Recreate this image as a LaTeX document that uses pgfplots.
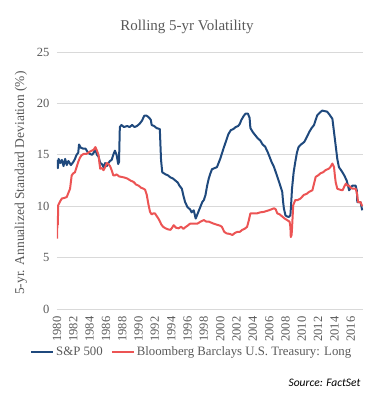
\documentclass[border=0pt]{standalone}
\usepackage{pgfplots}
\pgfplotsset{compat=1.18}
\usepackage{fontspec}
\setmainfont{Liberation Serif}
\newfontfamily\srcfont{Carlito}
\definecolor{spblue}{RGB}{31,73,125}
\definecolor{tred}{RGB}{236,84,84}
\definecolor{txtgray}{RGB}{89,89,89}
\definecolor{gridgray}{RGB}{217,217,217}
\begin{document}
\begin{tikzpicture}[x=1pt,y=1pt]
\useasboundingbox (0,0) rectangle (382,399);
\begin{axis}[
  scale only axis,
  width=306pt, height=257pt,
  at={(57pt,90pt)}, anchor=south west,
  xmin=1980, xmax=2017.5,
  ymin=0, ymax=25,
  ytick={0,5,...,25},
  xtick={1980,1982,...,2016},
  x tick label style={rotate=90, anchor=east, font=\fontsize{12.5}{13}\selectfont, text=txtgray},
  y tick label style={font=\fontsize{12.5}{13}\selectfont, text=txtgray},
  xticklabel shift=4pt,
  yticklabel shift=4pt,
  /pgf/number format/assume math mode=true,
  xticklabel={\pgfmathprintnumber[1000 sep={}]{\tick}},
  yticklabel={\pgfmathprintnumber{\tick}},
  major tick length=0pt,
  ymajorgrids, grid style={gridgray, line width=0.8pt},
  axis line style={draw=none},
  axis x line*=bottom,
  axis y line*=left,
  ylabel={5-yr. Annualized Standard Deviation (\%)},
  ylabel style={font=\fontsize{13.5}{14}\selectfont, text=txtgray, at={(axis description cs:-0.118,0.49)}, anchor=center},
  legend style={at={(axis description cs:-0.098,-0.168)}, anchor=west, draw=none, fill=none,
    font=\fontsize{12.8}{13}\selectfont, text=txtgray, legend columns=2,
    /tikz/every even column/.append style={column sep=6pt}},
  legend image code/.code={\draw[#1] (0pt,0pt) -- (22pt,0pt);},
  legend cell align=left,
]
\addplot[spblue, line width=2pt, line join=round] coordinates {
(1980.0,14.5) (1980.1,13.7) (1980.2,14.6) (1980.4,14.2) (1980.6,14.5) (1980.8,13.9) (1981.0,14.6) (1981.2,14.0) (1981.4,14.4) (1981.7,14.0) (1982.0,14.3) (1982.2,14.6) (1982.4,15.0) (1982.6,15.2) (1982.7,16.0) (1982.9,15.7) (1983.2,15.6) (1983.5,15.6) (1983.8,15.2) (1984.0,15.1) (1984.3,15.0) (1984.5,15.2) (1984.7,15.5) (1984.9,15.0) (1985.1,14.8) (1985.3,14.2) (1985.5,14.1) (1985.7,13.8) (1985.9,14.2) (1986.1,13.9) (1986.3,14.2) (1986.5,14.4) (1986.7,14.5) (1986.9,15.0) (1987.1,15.4) (1987.3,15.0) (1987.5,14.1) (1987.6,14.3) (1987.7,17.7) (1987.9,17.9) (1988.2,17.7) (1988.6,17.8) (1988.9,17.7) (1989.2,17.9) (1989.5,17.7) (1989.8,17.8) (1990.1,18.0) (1990.4,18.3) (1990.7,18.8) (1991.0,18.8) (1991.3,18.6) (1991.5,18.4) (1991.6,17.9) (1991.9,17.8) (1992.2,17.6) (1992.6,17.5) (1992.75,14.5) (1992.9,13.3) (1993.3,13.1) (1993.6,13.0) (1993.9,12.8) (1994.2,12.7) (1994.5,12.5) (1994.8,12.3) (1995.0,12.0) (1995.3,11.7) (1995.5,11.0) (1995.7,10.4) (1996.0,9.9) (1996.3,9.7) (1996.5,9.4) (1996.75,9.6) (1997.0,8.8) (1997.2,9.2) (1997.4,9.6) (1997.6,10.0) (1997.8,10.4) (1998.0,10.6) (1998.2,11.1) (1998.4,12.0) (1998.6,12.7) (1998.8,13.2) (1999.0,13.6) (1999.3,13.7) (1999.6,13.8) (1999.8,14.2) (2000.0,14.6) (2000.2,15.1) (2000.4,15.6) (2000.7,16.3) (2001.0,17.0) (2001.3,17.4) (2001.6,17.5) (2001.9,17.7) (2002.2,17.8) (2002.4,18.0) (2002.6,18.4) (2002.9,18.8) (2003.1,19.0) (2003.4,19.0) (2003.6,18.6) (2003.7,17.6) (2004.0,17.2) (2004.3,16.9) (2004.6,16.6) (2004.9,16.4) (2005.2,16.0) (2005.5,15.8) (2005.8,15.3) (2006.0,14.9) (2006.3,14.3) (2006.6,13.8) (2006.9,13.1) (2007.2,12.4) (2007.4,11.9) (2007.6,11.4) (2007.7,10.5) (2007.8,9.8) (2008.0,9.1) (2008.2,9.0) (2008.4,8.95) (2008.6,9.1) (2008.7,10.3) (2008.8,11.7) (2009.0,13.3) (2009.2,14.3) (2009.4,15.2) (2009.6,15.75) (2009.9,16.0) (2010.3,16.25) (2010.6,16.7) (2010.9,17.2) (2011.2,17.6) (2011.5,17.9) (2011.7,18.4) (2011.9,18.85) (2012.2,19.1) (2012.5,19.3) (2012.8,19.25) (2013.1,19.2) (2013.4,18.9) (2013.75,18.5) (2013.95,17.2) (2014.15,15.9) (2014.35,14.6) (2014.55,13.8) (2014.9,13.4) (2015.2,13.0) (2015.5,12.5) (2015.8,11.55) (2016.0,11.8) (2016.2,12.0) (2016.6,12.0) (2016.75,11.5) (2016.8,10.4) (2017.2,10.4) (2017.3,10.0) (2017.4,9.6)
};
\addlegendentry{S\&P 500}
\addplot[tred, line width=2pt, line join=round] coordinates {
(1980.0,6.85) (1980.05,8.5) (1980.1,8.2) (1980.15,10.1) (1980.4,10.5) (1980.6,10.75) (1980.9,10.8) (1981.2,10.9) (1981.4,11.3) (1981.6,11.7) (1981.8,13.0) (1982.0,13.2) (1982.2,13.3) (1982.4,13.8) (1982.6,14.3) (1982.8,14.7) (1983.0,14.95) (1983.3,15.1) (1983.65,15.1) (1984.0,15.3) (1984.25,15.4) (1984.5,15.5) (1984.7,15.75) (1984.9,15.4) (1985.1,14.95) (1985.2,14.2) (1985.3,13.65) (1985.5,13.7) (1985.7,13.5) (1985.9,13.8) (1986.1,14.2) (1986.3,14.1) (1986.5,13.9) (1986.7,13.5) (1986.9,13.0) (1987.1,13.0) (1987.3,13.1) (1987.6,12.9) (1987.9,12.85) (1988.2,12.8) (1988.6,12.7) (1989.0,12.5) (1989.4,12.35) (1989.7,12.1) (1990.0,12.0) (1990.3,11.8) (1990.6,11.7) (1990.8,11.6) (1991.0,11.1) (1991.2,10.2) (1991.4,9.45) (1991.6,9.2) (1991.8,9.3) (1992.0,9.3) (1992.25,9.0) (1992.5,8.7) (1992.8,8.2) (1993.0,8.0) (1993.3,7.85) (1993.6,7.75) (1993.9,7.7) (1994.1,7.9) (1994.3,8.15) (1994.6,7.9) (1994.9,7.85) (1995.2,8.0) (1995.5,7.8) (1995.8,8.0) (1996.0,8.1) (1996.3,8.3) (1996.7,8.3) (1997.2,8.3) (1997.6,8.5) (1998.0,8.65) (1998.3,8.5) (1998.6,8.5) (1998.9,8.4) (1999.2,8.3) (1999.6,8.2) (2000.0,8.1) (2000.2,8.0) (2000.5,7.5) (2000.8,7.35) (2001.2,7.3) (2001.5,7.2) (2001.8,7.4) (2002.1,7.5) (2002.4,7.5) (2002.7,7.7) (2003.0,7.8) (2003.3,8.0) (2003.5,8.6) (2003.7,9.3) (2004.0,9.3) (2004.5,9.3) (2004.9,9.4) (2005.35,9.45) (2005.95,9.6) (2006.3,9.7) (2006.6,9.8) (2006.8,9.7) (2007.0,9.3) (2007.3,9.2) (2007.6,9.0) (2007.9,8.8) (2008.2,8.65) (2008.5,8.5) (2008.6,8.0) (2008.65,7.0) (2008.75,7.2) (2008.8,7.85) (2008.95,10.1) (2009.2,10.6) (2009.5,10.6) (2009.85,10.75) (2010.25,11.1) (2010.6,11.2) (2010.9,11.4) (2011.3,11.55) (2011.5,12.2) (2011.7,12.85) (2012.0,13.0) (2012.3,13.2) (2012.6,13.3) (2012.9,13.5) (2013.3,13.65) (2013.5,13.8) (2013.75,14.15) (2013.95,13.8) (2014.05,13.0) (2014.15,12.35) (2014.35,11.7) (2014.7,11.6) (2015.0,11.55) (2015.2,11.9) (2015.4,12.2) (2015.6,12.0) (2015.8,12.0) (2016.0,11.8) (2016.2,11.7) (2016.6,11.7) (2016.75,11.3) (2016.9,10.4) (2017.2,10.4) (2017.4,10.0)
};
\addlegendentry{Bloomberg Barclays U.S. Treasury: Long}
\end{axis}
\node[text=txtgray, font=\fontsize{15}{17}\selectfont] at (187,372) {Rolling 5-yr Volatility};
\node[anchor=east, font=\srcfont\itshape\fontsize{11.5}{13}\selectfont] at (364,16) {Source: FactSet};
\end{tikzpicture}
\end{document}
